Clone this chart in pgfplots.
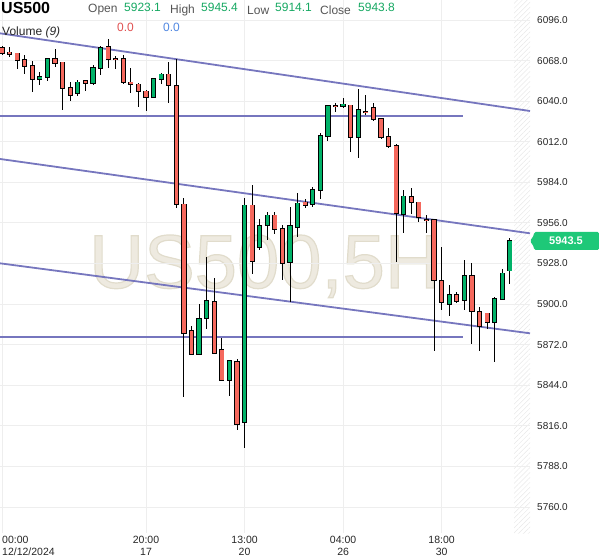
\documentclass[border=0pt]{standalone}
\usepackage{pgfplots}
\usepackage{pgfplotstable}
\pgfplotsset{compat=1.18}
\usepackage{fontspec}
\setmainfont{Liberation Sans}
\usetikzlibrary{patterns.meta}
\definecolor{redc}{RGB}{245,104,93}
\definecolor{greenc}{RGB}{0,178,104}
\definecolor{linec}{RGB}{118,118,190}
\definecolor{gridc}{RGB}{238,238,238}
\definecolor{hdrgreen}{RGB}{22,168,98}
\definecolor{hdrgray}{RGB}{85,85,85}
\definecolor{volred}{RGB}{224,80,80}
\definecolor{volblue}{RGB}{80,135,225}
\definecolor{wmark}{RGB}{238,234,224}
\definecolor{pricebox}{RGB}{30,200,120}

\pgfplotstableread{
x o h l c
0 6076.5 6078.1 6071.8 6073.4
1 6073.7 6077.2 6070.7 6072.3
2 6073.0 6073.5 6062.0 6068.4
3 6068.2 6071.9 6058.5 6064.1
4 6064.3 6067.9 6046.1 6055.1
7 6068.9 6075.8 6063.4 6066.1
8 6066.8 6067.0 6033.7 6048.9
9 6048.9 6053.0 6039.9 6044.0
11 6053.7 6053.9 6047.0 6052.3
14 6077.2 6082.7 6062.7 6068.9
15 6068.9 6071.0 6062.0 6068.7
16 6068.9 6071.6 6051.6 6053.0
17 6053.0 6062.7 6045.4 6051.6
18 6051.6 6052.3 6035.8 6046.8
19 6046.8 6047.5 6033.0 6042.7
22 6058.5 6066.8 6038.5 6051.0
23 6050.3 6068.9 5966.1 5969.0
24 5968.8 5973.4 5835.7 5880.2
25 5881.2 5885.1 5865.3 5865.3
28 5901.2 5917.8 5865.3 5866.0
29 5868.1 5876.4 5846.7 5847.4
31 5859.8 5861.9 5812.9 5817.0
33 5968.1 5981.9 5920.5 5929.5
36 5961.2 5963.3 5948.1 5951.6
37 5951.6 5954.3 5916.4 5928.1
40 5970.2 5972.3 5966.1 5968.1
44 6036.5 6038.5 6032.3 6036.2
46 6037.1 6037.3 6004.7 6015.1
48 6032.7 6044.0 6030.7 6032.5
49 6035.1 6038.5 6026.1 6027.5
50 6027.5 6027.5 6013.7 6015.1
51 6015.1 6021.3 6007.5 6008.9
52 6008.9 6010.2 5929.0 5962.6
54 5973.7 5979.9 5962.0 5970.2
55 5970.2 5970.2 5956.4 5959.9
56 5958.2 5961.2 5948.8 5958.0
57 5957.8 5957.8 5867.4 5916.4
58 5915.7 5939.2 5895.7 5901.2
60 5906.1 5908.1 5900.5 5901.9
62 5919.2 5928.1 5872.2 5895.0
63 5894.3 5897.8 5867.4 5884.6
64 5893.6 5893.6 5882.6 5887.4
}\redtab

\pgfplotstableread{
x o h l c
5 6055.1 6060.3 6050.9 6056.5
6 6056.5 6069.3 6054.1 6068.9
10 6045.4 6054.4 6043.4 6053.0
12 6052.3 6064.7 6050.9 6062.7
13 6062.7 6077.9 6057.8 6076.5
20 6042.7 6055.8 6042.0 6055.1
21 6055.1 6059.2 6051.6 6058.5
26 5865.3 5899.8 5865.3 5889.5
27 5890.1 5932.3 5882.6 5901.9
30 5847.4 5860.5 5836.4 5860.5
32 5818.4 5973.0 5800.5 5968.1
34 5939.2 5958.5 5937.3 5953.7
35 5954.3 5963.3 5944.0 5961.2
38 5928.8 5966.8 5901.2 5953.7
39 5953.0 5976.4 5946.1 5969.5
41 5968.8 5980.6 5966.8 5978.5
42 5978.5 6017.8 5972.3 6015.8
43 6015.8 6036.5 6012.3 6036.5
45 6036.5 6042.0 6035.1 6037.8
47 6015.1 6048.2 6000.6 6033.7
53 5961.9 5978.5 5948.8 5974.3
59 5899.8 5913.0 5891.6 5906.1
61 5902.6 5930.2 5895.7 5919.2
65 5887.4 5904.7 5859.8 5903.3
66 5903.3 5924.0 5903.3 5921.2
67 5923.1 5945.4 5914.1 5943.8
}\greentab

\pgfplotsset{
  wick/.style={draw=none, mark=none, forget plot,
    error bars/.cd, y dir=both, y explicit, error mark=none,
    error bar style={draw=black, line width=0.9pt}},
  bodyout/.style={draw=none, mark=none, forget plot,
    error bars/.cd, y dir=both, y explicit, error mark=none,
    error bar style={draw=black, line width=5.2pt}},
  bodyfill/.style={draw=none, mark=none, forget plot,
    error bars/.cd, y dir=both, y explicit, error mark=none,
    error bar style={draw=#1, line width=3.4pt}},
}

\begin{document}
\begin{tikzpicture}[x=1pt,y=1pt]
\path[use as bounding box] (0,0) rectangle (599,557);
% watermark: filled and stroked text
\node[anchor=base, inner sep=0pt, text=wmark, font=\fontsize{76}{76}\selectfont] at (264.5,269)
  {\special{pdf:code q 2 Tr 1.2 w 0.882 0.863 0.8 RG}US500,5H\special{pdf:code Q}};
% hatched future area
\fill[pattern={Lines[angle=45, distance=3.5pt, line width=0.5pt]}, pattern color=black!9] (514,24) rectangle (530,557);

\begin{axis}[
  at={(0pt,24pt)}, anchor=south west,
  scale only axis, width=530pt, height=533pt,
  xmin=-0.264, xmax=69.66,
  ymin=5742.0, ymax=6109.8,
  axis line style={draw=none},
  major tick length=0pt,
  /pgf/number format/assume math mode=true,
  ytick={5760,5788,...,6096},
  yticklabel pos=right,
  yticklabel style={anchor=west, inner sep=0pt, xshift=7pt,
    font=\fontsize{10}{12}\selectfont, text=black!85,
    /pgf/number format/.cd, fixed, fixed zerofill, precision=1, 1000 sep={}},
  xtick={19,32,45,58},
  xticklabels={{20:00\\17},{13:00\\20},{04:00\\26},{18:00\\30}},
  xticklabel style={align=center, inner sep=0pt, yshift=-3pt,
    font=\fontsize{10.5}{11.5}\selectfont, text=black!85},
  extra x ticks={0},
  extra x tick labels={{00:00\\12/12/2024}},
  extra x tick style={xticklabel style={anchor=north west, align=left}},
  grid=major, major grid style={draw=gridc, line width=0.8pt},
]
% trend lines
\addplot[linec, line width=1.8pt] coordinates {(-0.264,6086.8) (69.66,6033.2)};
\addplot[linec, line width=1.8pt] coordinates {(-0.264,6000.1) (69.66,5948.8)};
\addplot[linec, line width=1.8pt] coordinates {(-0.264,5928.1) (69.66,5879.8)};
\addplot[linec, line width=1.8pt] coordinates {(-0.264,6029.8) (60.78,6029.8)};
\addplot[linec, line width=1.8pt] coordinates {(-0.264,5877.3) (60.78,5877.3)};
% wicks
\addplot[wick] table[x=x, y expr={0.5*(\thisrow{h}+\thisrow{l})}, y error expr={0.5*(\thisrow{h}-\thisrow{l})}] {\redtab};
\addplot[wick] table[x=x, y expr={0.5*(\thisrow{h}+\thisrow{l})}, y error expr={0.5*(\thisrow{h}-\thisrow{l})}] {\greentab};
% body outlines
\addplot[bodyout] table[x=x, y expr={0.5*(\thisrow{o}+\thisrow{c})}, y error expr={0.5*abs(\thisrow{o}-\thisrow{c})+0.55}] {\redtab};
\addplot[bodyout] table[x=x, y expr={0.5*(\thisrow{o}+\thisrow{c})}, y error expr={0.5*abs(\thisrow{o}-\thisrow{c})+0.55}] {\greentab};
% body fills
\addplot[bodyfill=redc] table[x=x, y expr={0.5*(\thisrow{o}+\thisrow{c})}, y error expr={0.5*abs(\thisrow{o}-\thisrow{c})}] {\redtab};
\addplot[bodyfill=greenc] table[x=x, y expr={0.5*(\thisrow{o}+\thisrow{c})}, y error expr={0.5*abs(\thisrow{o}-\thisrow{c})}] {\greentab};
\end{axis}

% header
\node[anchor=west, inner sep=0pt, font=\fontsize{16}{16}\selectfont\bfseries] at (1,549) {US500};
\begin{scope}[every node/.style={anchor=west, inner sep=0pt, font=\fontsize{12}{12}\selectfont}]
\node[text=hdrgray] at (88,547) {Open};
\node[text=hdrgreen] at (124,550) {5923.1};
\node[text=hdrgray] at (170,547) {High};
\node[text=hdrgreen] at (201,550) {5945.4};
\node[text=hdrgray] at (247,547) {Low};
\node[text=hdrgreen] at (275,550) {5914.1};
\node[text=hdrgray] at (320,547) {Close};
\node[text=hdrgreen] at (358,550) {5943.8};
\node[text=black!85] at (2,525) {Volume \textit{(9)}};
\node[text=volred] at (117,530) {0.0};
\node[text=volblue] at (163,530) {0.0};
\end{scope}
% price label
\fill[pricebox, rounded corners=1.5pt] (530,316) -- (534,322) -- (534,325) -- (599,325) -- (599,307) -- (534,307) -- (534,310) -- cycle;
\node[text=white, font=\fontsize{11}{11}\selectfont\bfseries, inner sep=0pt] at (566,316) {5943.5};
\end{tikzpicture}
\end{document}
